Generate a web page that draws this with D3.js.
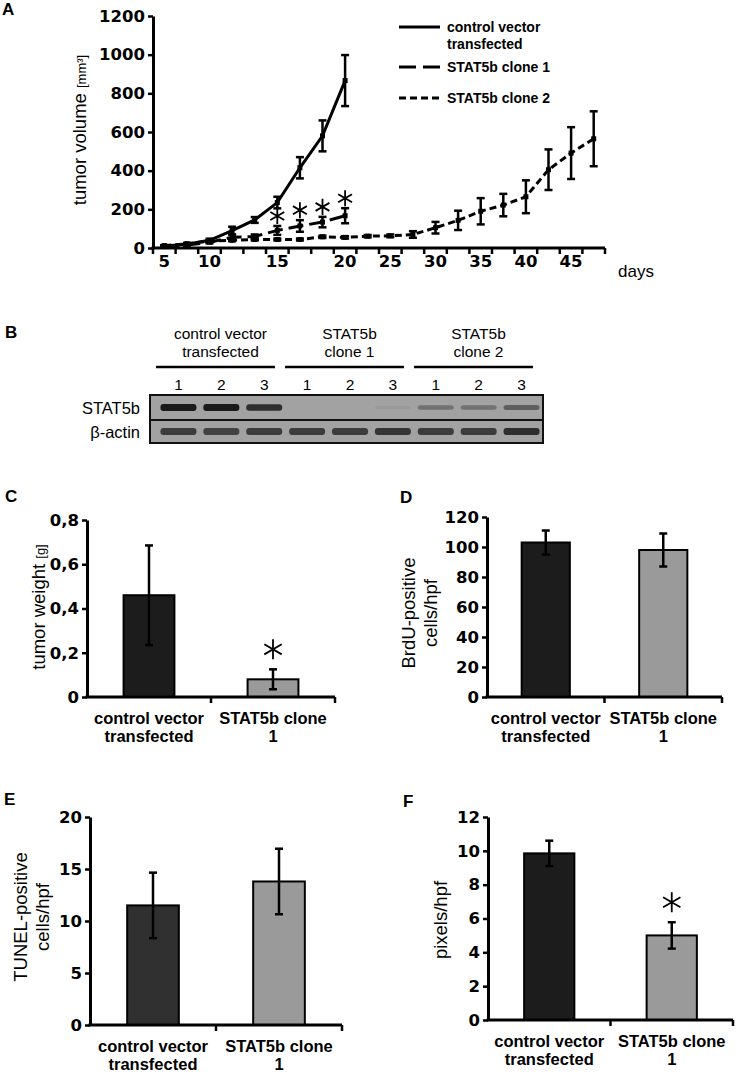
<!DOCTYPE html>
<html>
<head>
<meta charset="utf-8">
<script src="https://cdn.jsdelivr.net/npm/d3@7"></script>
<style>
body { margin: 0; background: #fff; }
svg { display: block; font-family: "Liberation Sans", Arial, sans-serif; }
</style>
</head>
<body>
<svg id="fig" width="736" height="1074"></svg>
<script>
// ---- panel A: tumor volume over days ----
var dayLabels = ['5', '', '10', '', '', '15', '', '', '20', '', '25', '', '30', '', '35', '', '40', '', '45', ''];
var volTicks = [0, 200, 400, 600, 800, 1000, 1200];
var controlVol = [10, 20, 40, 90, 145, 235, 415, 580, 866];
var controlErr = [4, 5, 8, 20, 15, 30, 55, 80, 132];
var clone1Vol = [10, 15, 30, 55, 60, 91, 114, 134, 167];
var clone1Err = [3, 4, 6, 15, 10, 23, 30, 27, 39];
var clone2Vol = [12, 22, 35, 40, 44, 44, 44, 58, 55, 61, 63, 70, 105, 143, 190, 222, 265, 405, 491, 565];
var clone2Err = [3, 4, 5, 5, 5, 5, 5, 6, 6, 6, 7, 17, 30, 50, 68, 58, 85, 105, 134, 142];
var seriesNames = [['control vector', 'transfected'], ['STAT5b clone 1'], ['STAT5b clone 2']];
var sigIdx = [5, 6, 7, 8];   // asterisks over clone 1

// ---- panel B: western blot ----
var blotGroups = [['control vector', 'transfected'], ['STAT5b', 'clone 1'], ['STAT5b', 'clone 2']];
var laneLabels = ['1', '2', '3', '1', '2', '3', '1', '2', '3'];
var blotRows = ['STAT5b', 'β-actin'];
var stat5bBand = [1.0, 1.0, 0.85, 0, 0, 0.05, 0.35, 0.35, 0.5];
var actinBand = [0.75, 0.7, 0.75, 0.75, 0.75, 0.8, 0.75, 0.75, 0.85];

// ---- panels C-F: bar charts ----
var barCats = [['control vector', 'transfected'], ['STAT5b clone', '1']];
var weightMean = [0.46, 0.08];
var weightErr = [0.225, 0.045];
var weightTicks = [0, 0.2, 0.4, 0.6, 0.8];
var brduMean = [103, 98];
var brduErr = [8, 11];
var brduTicks = [0, 20, 40, 60, 80, 100, 120];
var tunelMean = [11.5, 13.8];
var tunelErr = [3.15, 3.15];
var tunelTicks = [0, 5, 10, 15, 20];
var pixelMean = [9.85, 5.0];
var pixelErr = [0.75, 0.78];
var pixelTicks = [0, 2, 4, 6, 8, 10, 12];

var numFont = '"DejaVu Sans", sans-serif';
var svg = d3.select('#fig');

function panelLetter(t, x, y){
    svg.append('text').text(t).attr('x', x).attr('y', y)
       .attr('font-size', 17).attr('font-weight', 'bold');
}

function errBars(g, xs, ys, errs, yScale, cap, sw){
    xs.forEach(function(x, i){
        var top = yScale(ys[i] + errs[i]), bot = yScale(ys[i] - errs[i]);
        g.append('line').attr('x1', x).attr('x2', x).attr('y1', top).attr('y2', bot)
         .attr('stroke', '#000').attr('stroke-width', sw);
        [top, bot].forEach(function(yy){
            g.append('line').attr('x1', x - cap/2).attr('x2', x + cap/2).attr('y1', yy).attr('y2', yy)
             .attr('stroke', '#000').attr('stroke-width', sw);
        });
    });
}

function asterisk(g, x, y, r){
    var size = Math.pow(r / 0.59436, 2);
    g.append('path').attr('d', d3.symbol(d3.symbolAsterisk, size)())
     .attr('transform', 'translate(' + x + ',' + y + ')')
     .attr('fill', 'none').attr('stroke', '#000').attr('stroke-width', 1.8);
}

function styleTicks(ax){
    ax.select('.domain').attr('stroke-width', 3);
    ax.selectAll('.tick line').attr('stroke-width', 2.5);
    ax.selectAll('.tick text').attr('font-size', 16.5).attr('font-weight', 'bold')
      .attr('font-family', numFont).attr('fill', '#000');
}

// ================= A =================
panelLetter('A', 2, 15);
var gA = svg.append('g');
var xA = d3.scaleBand().domain(d3.range(dayLabels.length)).range([153, 605]);
var yA = d3.scaleLinear().domain([0, 1200]).range([248, 16]);
function cx(i){ return xA(i) + xA.bandwidth()/2; }

var yAxA = gA.append('g').attr('transform', 'translate(153,0)')
    .call(d3.axisLeft(yA).tickValues(volTicks).tickSize(5).tickSizeOuter(0).tickPadding(3)
            .tickFormat(d3.format('d')));
styleTicks(yAxA);

// x axis: category axis with ticks between days
gA.append('line').attr('x1', 151.5).attr('x2', xA.range()[1]).attr('y1', 248).attr('y2', 248)
  .attr('stroke', '#000').attr('stroke-width', 3);
gA.selectAll('line.xtick').data(d3.range(dayLabels.length + 1)).enter().append('line')
  .attr('x1', function(i){ return xA.range()[0] + i*xA.step(); })
  .attr('x2', function(i){ return xA.range()[0] + i*xA.step(); })
  .attr('y1', 248).attr('y2', 254).attr('stroke', '#000').attr('stroke-width', 2.5);
gA.selectAll('text.xlab').data(dayLabels).enter().append('text')
  .text(function(d){ return d; })
  .attr('x', function(d, i){ return cx(i); }).attr('y', 267)
  .attr('text-anchor', 'middle').attr('font-size', 16.5).attr('font-weight', 'bold')
  .attr('font-family', numFont);
gA.append('text').text('days').attr('x', 618).attr('y', 277).attr('font-size', 17);

// y label
var yLabA = gA.append('text').attr('transform', 'translate(86,130) rotate(-90)')
  .attr('text-anchor', 'middle').attr('font-size', 18.5);
yLabA.append('tspan').text('tumor volume ');
yLabA.append('tspan').text('[mm³]').attr('font-size', 13);

var lineA = d3.line().x(function(d, i){ return cx(i); }).y(function(d){ return yA(d); });
var dashes = [null, '15,6', '7,4'];
var vols = [controlVol, clone1Vol, clone2Vol];
var errs = [controlErr, clone1Err, clone2Err];
[2, 1, 0].forEach(function(s){
    gA.append('path').datum(vols[s]).attr('d', lineA)
      .attr('fill', 'none').attr('stroke', '#000').attr('stroke-width', 3)
      .attr('stroke-dasharray', dashes[s]);
    gA.selectAll('rect.m' + s).data(vols[s]).enter().append('rect')
      .attr('x', function(d, i){ return cx(i) - 2.5; }).attr('y', function(d){ return yA(d) - 2.5; })
      .attr('width', 5).attr('height', 5).attr('fill', '#000');
    errBars(gA, vols[s].map(function(d, i){ return cx(i); }), vols[s], errs[s], yA, 8, 2.5);
});
sigIdx.forEach(function(i){
    asterisk(gA, cx(i), yA(clone1Vol[i] + clone1Err[i]) - 10, 8);
});

// legend
var legY = [27, 67, 98];
seriesNames.forEach(function(lines, s){
    gA.append('line').attr('x1', 399).attr('x2', 440).attr('y1', legY[s]).attr('y2', legY[s])
      .attr('stroke', '#000').attr('stroke-width', 3)
      .attr('stroke-dasharray', s === 1 ? '17,7' : dashes[s]);
    lines.forEach(function(t, k){
        gA.append('text').text(t).attr('x', 447).attr('y', legY[s] + 5 + k*17)
          .attr('font-size', 14).attr('font-weight', 'bold');
    });
});

// ================= B =================
panelLetter('B', 5, 338);
var gB = svg.append('g');
var laneX = d3.scaleBand().domain(d3.range(laneLabels.length)).range([157, 543]);
var groupX = d3.scaleBand().domain(d3.range(blotGroups.length)).range([156, 543]);
blotGroups.forEach(function(lines, k){
    var gx = groupX(k) + groupX.bandwidth()/2;
    lines.forEach(function(t, j){
        gB.append('text').text(t).attr('x', gx).attr('y', 339 + j*18)
          .attr('text-anchor', 'middle').attr('font-size', 15.5);
    });
    gB.append('line').attr('x1', groupX(k)).attr('x2', groupX(k) + groupX.bandwidth() - 10)
      .attr('y1', 367).attr('y2', 367).attr('stroke', '#000').attr('stroke-width', 2.7);
});
gB.selectAll('text.lane').data(laneLabels).enter().append('text')
  .text(function(d){ return d; })
  .attr('x', function(d, i){ return laneX(i) + laneX.bandwidth()/2; }).attr('y', 390)
  .attr('text-anchor', 'middle').attr('font-size', 15.5);
var rowY = [395, 420], rowH = [25, 23];
var bands = [stat5bBand, actinBand];
blotRows.forEach(function(name, r){
    gB.append('rect').attr('x', 150).attr('y', rowY[r]).attr('width', 393).attr('height', rowH[r])
      .attr('fill', '#a2a2a2').attr('stroke', '#111').attr('stroke-width', 2);
    gB.append('text').text(name).attr('x', 140).attr('y', rowY[r] + rowH[r]/2 + 6)
      .attr('text-anchor', 'end').attr('font-size', 16.5);
    gB.selectAll('rect.band' + r).data(bands[r]).enter().append('rect')
      .attr('x', function(d, i){ return laneX(i) + laneX.bandwidth()/2 - 18; })
      .attr('y', function(d){ return rowY[r] + rowH[r]/2 - (r === 0 ? 1.5 + 2*d : 3.5); })
      .attr('width', 36)
      .attr('height', function(d){ return r === 0 ? 3 + 4*d : 7; })
      .attr('rx', 3)
      .attr('fill', '#1a1a1a').attr('opacity', function(d){ return d; });
});

// ================= C-F =================
function barPanel(o){
    var g = svg.append('g');
    var y = d3.scaleLinear().domain([0, o.ticks[o.ticks.length - 1]]).range([o.y0, o.y1]);
    var x = d3.scaleBand().domain(d3.range(o.means.length)).range([o.x0, o.x1])
              .paddingInner(0.59).paddingOuter(0.295);
    g.selectAll('rect.bar').data(o.means).enter().append('rect')
     .attr('x', function(d, i){ return x(i); }).attr('y', function(d){ return y(d); })
     .attr('width', x.bandwidth()).attr('height', function(d){ return o.y0 - y(d); })
     .attr('fill', function(d, i){ return o.fills[i]; })
     .attr('stroke', '#000').attr('stroke-width', 2);
    errBars(g, o.means.map(function(d, i){ return x(i) + x.bandwidth()/2; }), o.means, o.errs, y, 8, 2.5);

    var ax = g.append('g').attr('transform', 'translate(' + o.x0 + ',0)')
      .call(d3.axisLeft(y).tickValues(o.ticks).tickSize(5).tickSizeOuter(0).tickPadding(3)
              .tickFormat(o.fmt || d3.format('d')));
    styleTicks(ax);

    g.append('line').attr('x1', o.x0 - 1.5).attr('x2', o.x1).attr('y1', o.y0).attr('y2', o.y0)
     .attr('stroke', '#000').attr('stroke-width', 3);
    [0.5, 1].forEach(function(f){
        var tx = o.x0 + f*(o.x1 - o.x0);
        g.append('line').attr('x1', tx).attr('x2', tx).attr('y1', o.y0).attr('y2', o.y0 + 6)
         .attr('stroke', '#000').attr('stroke-width', 2.5);
    });
    barCats.forEach(function(lines, i){
        lines.forEach(function(t, k){
            g.append('text').text(t).attr('x', x(i) + x.bandwidth()/2).attr('y', o.y0 + 27 + k*18)
             .attr('text-anchor', 'middle').attr('font-size', 16.5).attr('font-weight', 'bold');
        });
    });
    o.ylab.forEach(function(t, k){
        var lab = g.append('text')
          .attr('transform', 'translate(' + (o.labX + k*22) + ',' + o.labY + ') rotate(-90)')
          .attr('text-anchor', 'middle').attr('font-size', 18.5);
        lab.append('tspan').text(t);
        if (o.unit) lab.append('tspan').text(o.unit).attr('font-size', 13);
    });
    if (o.sig) {
        o.sig.forEach(function(i){
            asterisk(g, x(i) + x.bandwidth()/2, y(o.means[i] + o.errs[i]) - 20, 10);
        });
    }
}

var commaFmt = function(d){ return d === 0 ? '0' : d3.format('.1f')(d).replace('.', ','); };

panelLetter('C', 5, 502);
barPanel({x0: 87, x1: 335, y0: 697, y1: 520, ticks: weightTicks, fmt: commaFmt,
          means: weightMean, errs: weightErr, fills: ['#1c1c1c', '#9a9a9a'],
          ylab: ['tumor weight '], unit: '[g]', labX: 44.5, labY: 607, sig: [1]});

panelLetter('D', 400, 503);
barPanel({x0: 487, x1: 722, y0: 697, y1: 517, ticks: brduTicks,
          means: brduMean, errs: brduErr, fills: ['#1c1c1c', '#9a9a9a'],
          ylab: ['BrdU-positive', 'cells/hpf'], labX: 414.5, labY: 613});

panelLetter('E', 4, 805);
barPanel({x0: 90, x1: 342, y0: 1025, y1: 817, ticks: tunelTicks,
          means: tunelMean, errs: tunelErr, fills: ['#303030', '#9a9a9a'],
          ylab: ['TUNEL-positive', 'cells/hpf'], labX: 26.5, labY: 917});

panelLetter('F', 403, 807);
barPanel({x0: 488, x1: 733, y0: 1020, y1: 817, ticks: pixelTicks,
          means: pixelMean, errs: pixelErr, fills: ['#1c1c1c', '#9a9a9a'],
          ylab: ['pixels/hpf'], labX: 446.5, labY: 920, sig: [1]});
</script>
</body>
</html>
